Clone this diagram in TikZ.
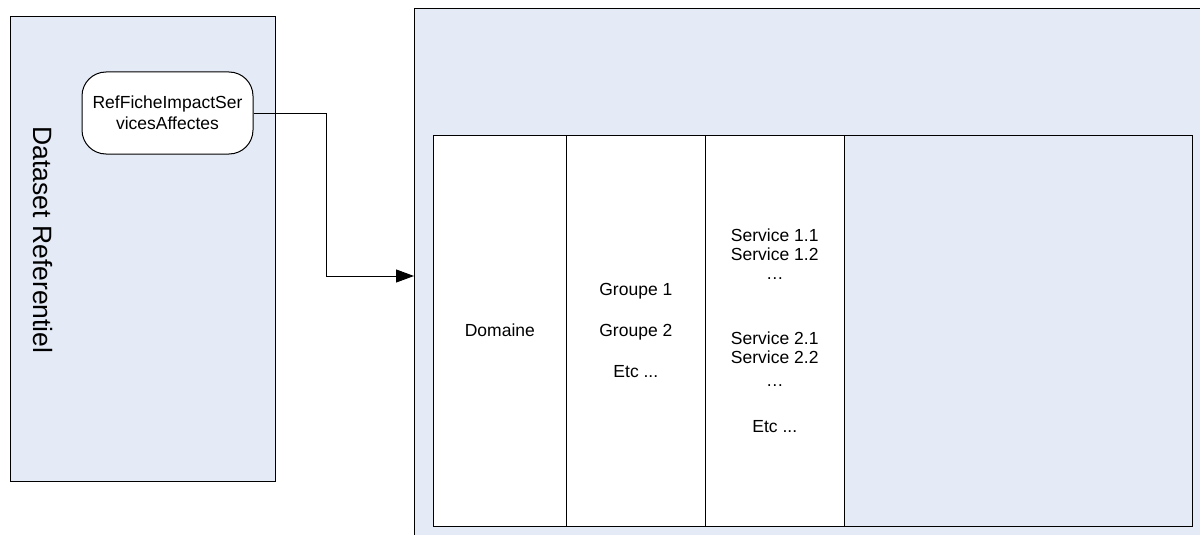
\documentclass[tikz,border=0pt]{standalone}
\usepackage{fontspec}
\setmainfont{Liberation Sans}
\usepackage{xcolor}
\usepackage{tikz}
\usetikzlibrary{arrows.meta, positioning}

\definecolor{paleblue}{HTML}{E4EBF6}

\begin{document}
\begin{tikzpicture}[x=1pt, y=-1pt,
    panel/.style={draw, fill=paleblue, line width=1pt, inner sep=0pt, outer sep=0pt},
    col/.style={draw, fill=white, line width=1pt, minimum height=391pt, inner sep=0pt, outer sep=0pt, align=center,
                font=\fontsize{17.5}{19}\selectfont},
    pill/.style={draw, fill=white, line width=1pt, rounded corners=24pt, minimum width=171pt, minimum height=82pt,
                 align=center, font=\fontsize{17.5}{21}\selectfont},
    arr/.style={-{Triangle[length=18pt, width=13pt]}, line width=1pt}]
  \clip (0,0) rectangle (1200,535);
  % left dataset panel
  \node[panel, anchor=north west, minimum width=265.5pt, minimum height=465pt] (dataset) at (10,16.5) {};
  \node[rotate=-90, font=\fontsize{26.5}{30}\selectfont] (dslabel) at (43,240) {Dataset Referentiel};
  \node[pill] (ref) at (167.5,113) {RefFicheImpactSer\\vicesAffectes};
  % right panel with its table
  \node[panel, anchor=north west, minimum width=800pt, minimum height=540pt] (target) at (414,8.5) {};
  \node[col, anchor=north west, minimum width=133.7pt] (domaine) at (433,135) {Domaine};
  \node[col, right=0pt of domaine, minimum width=138.3pt] (groupes) {Groupe 1\\[22pt]Groupe 2\\[22pt]Etc ...};
  \node[col, right=0pt of groupes, minimum width=139.5pt] (services)
    {Service 1.1\\Service 1.2\\…\\[46pt]Service 2.1\\Service 2.2\\[4pt]…\\[27pt]Etc ...};
  \node[col, right=0pt of services, minimum width=347.5pt, fill=paleblue] (rest) {};
  % connector
  \coordinate (bend) at (326,276);
  \draw[arr] (ref.east) -| (bend) -- (bend -| target.west);
\end{tikzpicture}
\end{document}
